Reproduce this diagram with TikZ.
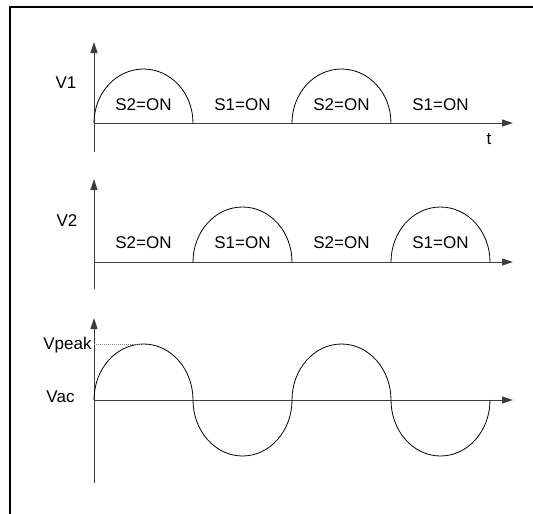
\documentclass[tikz,border=0pt]{standalone}
\usepackage{fontspec}
\setmainfont{Liberation Sans}
\usetikzlibrary{arrows.meta, calc}
\definecolor{caxis}{HTML}{3C3C3C}
\definecolor{cpeak}{HTML}{8A8A8A}
\tikzset{
  every picture/.style={line width=0.8pt},
  axis/.style={-{Triangle[length=11pt, width=7pt]}, draw=caxis, line width=1pt},
  wave/.style={draw=black, line width=0.8pt},
  lbl/.style={font=\fontsize{17}{20}\selectfont, inner sep=1pt},
  peak/.style={draw=cpeak, line width=1pt, densely dotted},
}

\begin{document}
\begin{tikzpicture}[x=1pt, y=-1pt]
  \useasboundingbox (0,0) rectangle (533,514);
  % frame, only top and left edge are inside the picture
  \draw[line width=2pt] (533,7) -- (10,7) -- (10,514);
  % three time axes
  \foreach \n/\y/\lo/\hi in {1/123/152/42, 2/262/289/179, 3/400/483/318} {
    \coordinate (o\n) at (94,\y);
    \coordinate (top\n) at (94,\hi);
    \coordinate (bot\n) at (94,\lo);
    \coordinate (end\n) at (513,\y);
    \draw[axis] (bot\n) -- (top\n);
    \draw[axis] (o\n) -- (end\n);
  }
  % V1
  \foreach \k in {0,2}
    \draw[wave] ($(o1)+(\k*99,0)$) arc[start angle=180, end angle=360, x radius=49.5, y radius=54];
  \foreach \s [count=\i from 0] in {S2,S1,S2,S1}
    \node[lbl] (s1\i) at (143.5+99*\i,105) {\s=ON};
  \node[lbl] (v1) at (66,83) {V1};
  \node[lbl] (t) at (489,139) {t};
  % V2
  \foreach \k in {1,3}
    \draw[wave] ($(o2)+(\k*99,0)$) arc[start angle=180, end angle=360, x radius=49.5, y radius=55];
  \foreach \s [count=\i from 0] in {S2,S1,S2,S1}
    \node[lbl] (s2\i) at (143.5+99*\i,243) {\s=ON};
  \node[lbl] (v2) at (67,221) {V2};
  % Vac
  \draw[wave] (o3) arc[start angle=180, end angle=360, x radius=49.5, y radius=56]
                   arc[start angle=180, end angle=0, x radius=49.5, y radius=56]
                   arc[start angle=180, end angle=360, x radius=49.5, y radius=56]
                   arc[start angle=180, end angle=0, x radius=49.5, y radius=56];
  \coordinate (pk) at (143.5,344);
  \draw[peak] (o3 |- pk) -- (pk);
  \node[lbl, anchor=east] (vpeak) at (93,345) {Vpeak};
  \node[lbl] (vac) at (60.5,397) {Vac};
\end{tikzpicture}
\end{document}
